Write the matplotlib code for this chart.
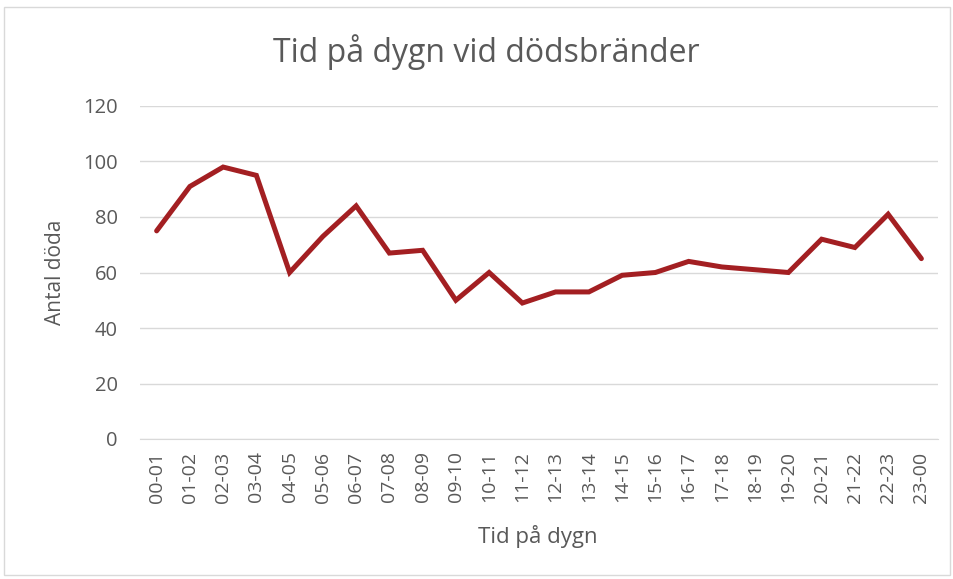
import matplotlib
matplotlib.use('Agg')
import matplotlib.pyplot as plt
from matplotlib.patches import Rectangle

hours = ['00-01', '01-02', '02-03', '03-04', '04-05', '05-06', '06-07', '07-08',
         '08-09', '09-10', '10-11', '11-12', '12-13', '13-14', '14-15', '15-16',
         '16-17', '17-18', '18-19', '19-20', '20-21', '21-22', '22-23', '23-00']
deaths = [75, 91, 98, 95, 60, 73, 84, 67, 68, 50, 60, 49, 53, 53, 59, 60,
          64, 62, 61, 60, 72, 69, 81, 65]
yticks = [0, 20, 40, 60, 80, 100, 120]

plt.rcParams['font.family'] = ['Open Sans', 'DejaVu Sans']
textcol = '#595959'

W, H = 954, 579
fig = plt.figure(figsize=(W / 100, H / 100), dpi=100)
# light frame round the chart
fig.patches.append(Rectangle((4 / W, 4 / H), 946 / W, 568 / H, transform=fig.transFigure,
                             fill=False, edgecolor='#D9D9D9', linewidth=1))

ax = fig.add_axes([140 / W, 1 - 439 / H, 798 / W, 333 / H])
x = list(range(len(hours)))
ax.plot(x, deaths, color='#A31F22', linewidth=3.6, solid_joinstyle='miter', solid_capstyle='round', zorder=3)

ax.set_xlim(-0.5, len(hours) - 0.5)
ax.set_ylim(0, 120)
ax.set_yticks(yticks)
ax.set_xticks(x)
ax.set_xticklabels(hours, rotation=90)
ax.grid(axis='y', color='#D9D9D9', linewidth=1)
ax.set_axisbelow(True)
for s in ['top', 'right', 'left']:
    ax.spines[s].set_visible(False)
ax.spines['bottom'].set_color('#D9D9D9')
ax.tick_params(length=0, colors=textcol)
ax.tick_params(axis='y', pad=16, labelsize=14.5)
ax.tick_params(axis='x', pad=9, labelsize=14)

# axis titles and chart title
fig.text(56 / W, 1 - 272 / H, 'Antal döda', rotation=90, ha='center', va='center',
         color=textcol, fontsize=15)
fig.text(538 / W, 1 - 537 / H, 'Tid på dygn', ha='center', va='center',
         color=textcol, fontsize=16)
fig.text(486 / W, 1 - 52 / H, 'Tid på dygn vid dödsbränder', ha='center', va='center',
         color=textcol, fontsize=23)

fig.savefig('out.png', dpi=100)
